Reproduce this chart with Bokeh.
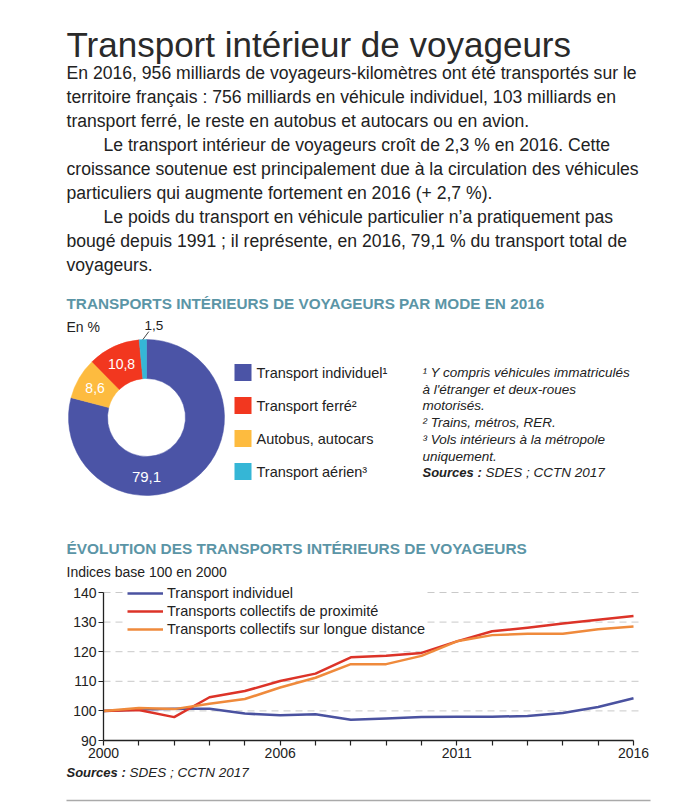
import math
from bokeh.plotting import figure
from bokeh.models import Range1d, FixedTicker, Legend, LegendItem, LinearAxis
from bokeh.core.properties import value
from bokeh.embed import file_html
from bokeh.resources import INLINE

# ---------------- data ----------------
title_text = "Transport intérieur de voyageurs"
body_lines = [
    "En 2016, 956 milliards de voyageurs-kilomètres ont été transportés sur le",
    "territoire français : 756 milliards en véhicule individuel, 103 milliards en",
    "transport ferré, le reste en autobus et autocars ou en avion.",
    "Le transport intérieur de voyageurs croît de 2,3 % en 2016. Cette",
    "croissance soutenue est principalement due à la circulation des véhicules",
    "particuliers qui augmente fortement en 2016 (+ 2,7 %).",
    "Le poids du transport en véhicule particulier n’a pratiquement pas",
    "bougé depuis 1991 ; il représente, en 2016, 79,1 % du transport total de",
    "voyageurs.",
]
body_indent = [0, 0, 0, 1, 0, 0, 1, 0, 0]

pie_title = "TRANSPORTS INTÉRIEURS DE VOYAGEURS PAR MODE EN 2016"
pie_unit = "En %"
modes = ["Transport individuel¹", "Transport ferré²", "Autobus, autocars", "Transport aérien³"]
shares = [79.1, 10.8, 8.6, 1.5]
share_labels = ["79,1", "10,8", "8,6", "1,5"]
mode_colors = ["#4b54a6", "#f2371f", "#fdbb3f", "#35b6d6"]
clockwise_order = [0, 2, 1, 3]  # drawing order clockwise from 12 o'clock

footnotes = [
    "¹ Y compris véhicules immatriculés",
    "à l'étranger et deux-roues",
    "motorisés.",
    "² Trains, métros, RER.",
    "³ Vols intérieurs à la métropole",
    "uniquement.",
]
src_bold = "Sources :"
src_rest = "SDES ; CCTN 2017"

line_title = "ÉVOLUTION DES TRANSPORTS INTÉRIEURS DE VOYAGEURS"
line_unit = "Indices base 100 en 2000"
x_labels = ["2000", "", "", "", "", "2006", "", "", "", "", "2011", "", "", "", "", "2016"]
y_ticks = [90, 100, 110, 120, 130, 140]
series_names = ["Transport individuel", "Transports collectifs de proximité",
                "Transports collectifs sur longue distance"]
indiv = [100.0, 100.5, 100.7, 100.7, 99.1, 98.5, 98.9, 97.0, 97.4, 97.9, 98.0, 98.0, 98.3, 99.3, 101.3, 104.3]
proxim = [100.0, 100.3, 97.9, 104.6, 106.7, 110.1, 112.6, 118.1, 118.6, 119.6, 123.5, 126.9, 128.1, 129.5, 130.8, 132.1]
longue = [100.0, 101.0, 100.6, 102.4, 104.0, 107.9, 111.2, 115.8, 115.8, 118.6, 123.5, 125.6, 126.1, 126.1, 127.6, 128.5]
series_colors = ["#4a52a0", "#dc3328", "#ef8a3c"]

# ---------------- styles / layout ----------------
FONT = "Liberation Sans"
DARK = "#222222"
TEAL = "#5b95a6"
W, H = 700, 808


def Y(py):
    return H - py


p = figure(width=W, height=H, x_range=Range1d(0, W), y_range=Range1d(0, H),
           output_backend="svg", toolbar_location=None, x_axis_type=None, y_axis_type=None,
           min_border=0, min_border_left=0, min_border_right=0, min_border_top=0, min_border_bottom=0)
p.outline_line_color = None
p.background_fill_color = "white"


def txt(x, y, t, size, style="normal", color=DARK, align="left"):
    p.text(x=x, y=y, text=t, text_font=value(FONT), text_font_size=size,
           text_font_style=style, text_color=color, text_align=align, text_baseline="middle")


# ---- header text ----
txt([66], [Y(44)], [title_text], "35px", color="#2a2a2a")
body_x = [66 + 37 * ind for ind in body_indent]
body_y = [Y(72 + 24.1 * i) for i in range(len(body_lines))]
txt(body_x, body_y, body_lines, "17.6px")

# ---- donut section ----
txt([66], [Y(303)], [pie_title], "15.3px", style="bold", color=TEAL)
txt([66], [Y(326)], [pie_unit], "14px")

cx, cy, R_OUT, R_IN = 146, Y(417), 78, 39
total = sum(shares)
cum = 0.0
starts, ends, cols, mids = [], [], [], {}
for i in clockwise_order:
    a0 = math.pi / 2 - 2 * math.pi * cum / total
    cum += shares[i]
    a1 = math.pi / 2 - 2 * math.pi * cum / total
    starts.append(a0)
    ends.append(a1)
    cols.append(mode_colors[i])
    mids[i] = (a0 + a1) / 2
p.annular_wedge(x=cx, y=cy, inner_radius=R_IN, outer_radius=R_OUT, start_angle=starts,
                end_angle=ends, direction="clock", fill_color=cols, line_color=cols, line_width=0.5)

label_angle = {0: -math.pi / 2, 1: mids[1], 2: mids[2]}
r_mid = (R_OUT + R_IN) / 2 + 1
lx = [cx + r_mid * math.cos(label_angle[i]) for i in (0, 1, 2)]
ly = [cy + r_mid * math.sin(label_angle[i]) for i in (0, 1, 2)]
p.text(x=lx, y=ly, text=[share_labels[i] for i in (0, 1, 2)], text_font=value(FONT),
       text_font_size=["15px", "14px", "14px"], text_color="white", text_align="center",
       text_baseline="middle")
a3 = mids[3]
p0x, p0y = cx + R_OUT * math.cos(a3), cy + R_OUT * math.sin(a3)
p.segment(x0=[p0x], y0=[p0y], x1=[p0x + 6], y1=[p0y + 8], line_color="#444444", line_width=1)
txt([p0x + 11], [p0y + 14], [share_labels[3]], "13.5px", align="center")

leg_y = [Y(372 + 33 * i) for i in range(len(modes))]
p.rect(x=[242.5] * len(modes), y=leg_y, width=17, height=17, fill_color=mode_colors,
       line_color=None)
txt([256] * len(modes), leg_y, modes, "14.5px")

fn_y = [Y(372 + 16.7 * i) for i in range(len(footnotes) + 1)]
txt([422] * len(footnotes), fn_y[:-1], footnotes, "13.5px", style="italic")
txt([422], [fn_y[-1]], [src_bold], "13px", style="bold italic")
txt([485], [fn_y[-1]], [src_rest], "13.5px", style="italic")

# ---- line chart section ----
txt([66], [Y(548)], [line_title], "15.4px", style="bold", color=TEAL)
txt([66], [Y(571)], [line_unit], "14px")

n = len(x_labels)
xs = list(range(n))
FX0, FX1 = 103, 633          # page x of first / last period
FY_LO, FY_HI = 740, 592      # page y of lowest / highest y tick
kx = (FX1 - FX0) / (n - 1)
ky = (FY_LO - FY_HI) / (y_ticks[-1] - y_ticks[0])
p.extra_x_ranges = {"per": Range1d(0 - FX0 / kx, (n - 1) + (W - FX1) / kx)}
p.extra_y_ranges = {"idx": Range1d(y_ticks[0] - (H - FY_LO) / ky, y_ticks[-1] + FY_HI / ky)}

grid_vals = y_ticks[1:]
p.segment(x0=[0] * len(grid_vals), x1=[n - 1 + 0.2] * len(grid_vals), y0=grid_vals, y1=grid_vals,
          x_range_name="per", y_range_name="idx", line_color="#c9c9c9", line_width=1,
          line_dash="7 5")

renderers = []
for ys, col in zip([indiv, proxim, longue], series_colors):
    renderers.append(p.line(xs, ys, line_color=col, line_width=2.5, line_join="round",
                            x_range_name="per", y_range_name="idx"))

xaxis = LinearAxis(x_range_name="per", y_range_name="idx", fixed_location=y_ticks[0],
                   ticker=FixedTicker(ticks=xs), bounds=(0, n - 1))
xaxis.major_label_overrides = {i: lab for i, lab in enumerate(x_labels)}
yaxis = LinearAxis(x_range_name="per", y_range_name="idx", fixed_location=0,
                   ticker=FixedTicker(ticks=y_ticks), bounds=(y_ticks[0], y_ticks[-1]))
for axis in (xaxis, yaxis):
    axis.axis_line_color = DARK
    axis.axis_line_width = 1.3
    axis.major_tick_line_color = DARK
    axis.major_tick_line_width = 1.2
    axis.major_tick_in = 0
    axis.major_tick_out = 5
    axis.minor_tick_line_color = None
    axis.major_label_text_font = FONT
    axis.major_label_text_font_size = "14px"
    axis.major_label_text_color = DARK
    axis.major_label_standoff = 2
p.add_layout(xaxis, "below")
p.add_layout(yaxis, "left")

legend = Legend(items=[LegendItem(label=nm, renderers=[r]) for nm, r in zip(series_names, renderers)],
                location=(127, H - 638), orientation="vertical")
legend.background_fill_color = "white"
legend.background_fill_alpha = 1
legend.border_line_alpha = 0
legend.padding = 0
legend.margin = 0
legend.spacing = 0
legend.label_height = 18
legend.glyph_height = 18
legend.glyph_width = 36
legend.label_standoff = 4
legend.label_text_font = FONT
legend.label_text_font_size = "14.5px"
legend.label_text_color = DARK
p.add_layout(legend)

txt([66], [Y(772)], [src_bold], "13px", style="bold italic")
txt([129], [Y(772)], [src_rest], "13.5px", style="italic")
p.segment(x0=[66], y0=[Y(800)], x1=[650], y1=[Y(800)], line_color="#aaaaaa", line_width=1.5)

open("out.html", "w").write(file_html(p, INLINE))
